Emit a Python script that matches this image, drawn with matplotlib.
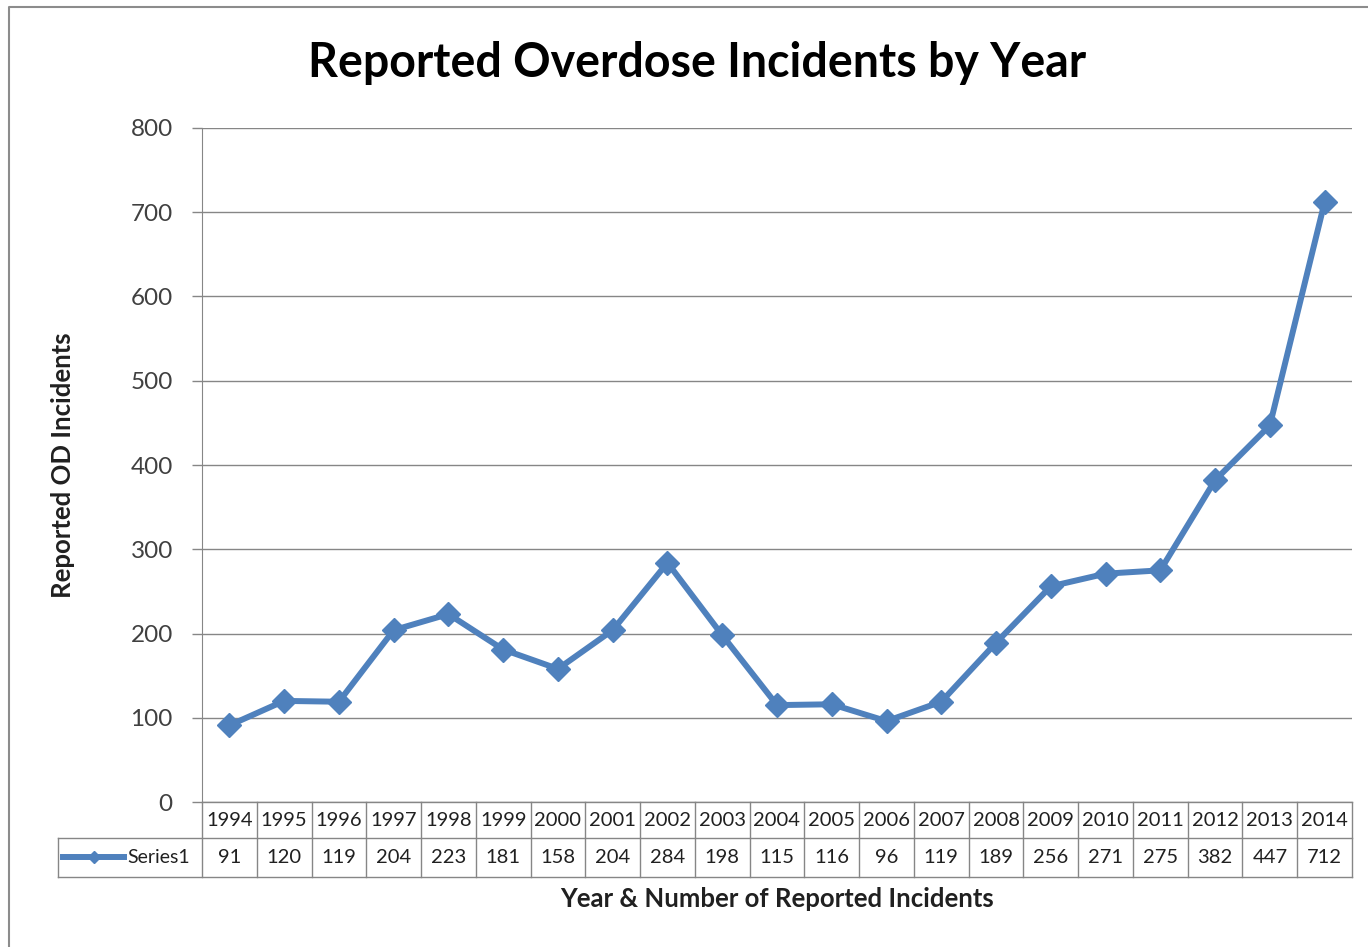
# Biểu đồ số vụ quá liều được báo cáo theo năm
import matplotlib.pyplot as plt
from matplotlib.lines import Line2D
from matplotlib.transforms import blended_transform_factory

plt.rcParams['font.family'] = ['Lato', 'DejaVu Sans']

# Dữ liệu
years = ['1994', '1995', '1996', '1997', '1998', '1999', '2000', '2001', '2002', '2003', '2004',
         '2005', '2006', '2007', '2008', '2009', '2010', '2011', '2012', '2013', '2014']
incidents = [91, 120, 119, 204, 223, 181, 158, 204, 284, 198, 115,
             116, 96, 119, 189, 256, 271, 275, 382, 447, 712]
series_name = 'Series1'
yticks = [0, 100, 200, 300, 400, 500, 600, 700, 800]

W, H = 1368, 947
line_color = '#4F81BD'
grid_color = '#868686'
text_color = '#404040'

fig = plt.figure(figsize=(W / 100, H / 100), dpi=100)
ax = fig.add_axes([202 / W, 1 - 802 / H, 1150 / W, 674 / H])

x = list(range(len(years)))
ax.plot(x, incidents, color=line_color, lw=4.3, marker='D', markersize=12,
        markerfacecolor=line_color, markeredgecolor=line_color, zorder=3)

ax.set_xlim(-0.5, len(years) - 0.5)
ax.set_ylim(0, 800)
ax.set_yticks(yticks)
ax.set_yticklabels([str(v) for v in yticks], fontsize=17.5, color=text_color)
ax.tick_params(axis='y', length=7, width=1, color=grid_color, pad=14)
ax.set_xticks([])
ax.grid(axis='y', color=grid_color, lw=1)
ax.set_axisbelow(True)
for s in ['top', 'right', 'bottom']:
    ax.spines[s].set_visible(False)
ax.spines['left'].set_color(grid_color)

# Bảng dữ liệu bên dưới trục
tr = blended_transform_factory(ax.transData, ax.transAxes)
r1 = -36 / 674
r2 = -75 / 674
left_cell = -0.5 - 144 / 1150 * len(years)
n = len(years)
kw = dict(color=grid_color, lw=1, transform=tr, clip_on=False)
ax.plot([-0.5, n - 0.5], [0, 0], **kw)
ax.plot([left_cell, n - 0.5], [r1, r1], **kw)
ax.plot([left_cell, n - 0.5], [r2, r2], **kw)
ax.plot([left_cell, left_cell], [r1, r2], **kw)
for i in range(n + 1):
    ax.plot([i - 0.5, i - 0.5], [0, r2], **kw)
for i in range(n):
    ax.text(i, r1 / 2, years[i], transform=tr, ha='center', va='center',
            fontsize=14.5, color='#202020')
    ax.text(i, (r1 + r2) / 2, str(incidents[i]), transform=tr, ha='center', va='center',
            fontsize=14.5, color='#202020')

# Ký hiệu chú giải trong ô bên trái
fig.add_artist(Line2D([63 / W, 94 / W, 124 / W], [1 - 857 / H] * 3, color=line_color, lw=4.3,
                      marker='D', markersize=6, markevery=[1], transform=fig.transFigure))
fig.text(127 / W, 1 - 857 / H, series_name, ha='left', va='center', fontsize=14, color='#202020')

# Tiêu đề và nhãn
fig.text(697 / W, 1 - 63 / H, 'Reported Overdose Incidents by Year', ha='center', va='center',
         fontsize=33.5, fontweight='bold', color='black')
fig.text(777 / W, 1 - 899 / H, 'Year & Number of Reported Incidents', ha='center', va='center',
         fontsize=18.5, fontweight='bold', color='#202020')
fig.text(63 / W, 1 - 465 / H, 'Reported OD Incidents', ha='center', va='center',
         rotation=90, fontsize=18.5, fontweight='bold', color='#202020')

# Khung viền ngoài
fig.add_artist(Line2D([9 / W, 9 / W, 1.0], [0, 1 - 7 / H, 1 - 7 / H], color='#8c8c8c', lw=1.5,
                      transform=fig.transFigure))

fig.savefig('out.png', dpi=100, facecolor='white')
